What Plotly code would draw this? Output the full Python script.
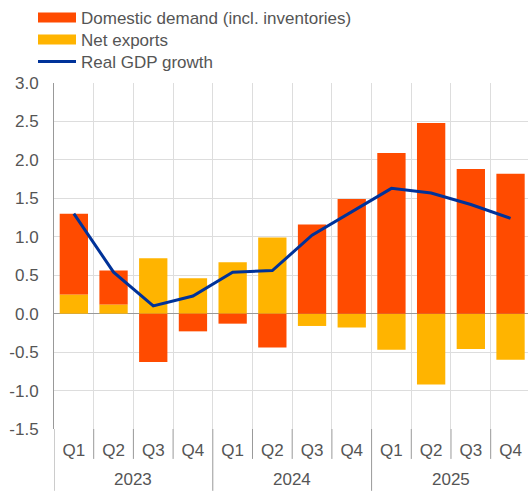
import plotly.graph_objects as go

years = ["2023"] * 4 + ["2024"] * 4 + ["2025"] * 4
quarters = ["Q1", "Q2", "Q3", "Q4"] * 3
domestic = [1.05, 0.44, -0.63, -0.23, -0.13, -0.44, 1.16, 1.49, 2.09, 2.48, 1.88, 1.82]
net_exports = [0.25, 0.12, 0.72, 0.46, 0.67, 0.99, -0.16, -0.18, -0.47, -0.92, -0.46, -0.60]
gdp = [1.30, 0.54, 0.10, 0.23, 0.54, 0.56, 1.02, 1.32, 1.63, 1.57, 1.42, 1.24]
year_labels = ["2023", "2024", "2025"]
y_ticks = [-1.5, -1.0, -0.5, 0.0, 0.5, 1.0, 1.5, 2.0, 2.5, 3.0]
y_ticktext = ["-1.5", "-1.0", "-0.5", "0.0", "0.5", "1.0", "1.5", "2.0", "2.5", "3.0"]

C_DD = "#FF4B00"
C_NX = "#FFB400"
C_GDP = "#003299"
TXT = "#555555"
AXC = "#999999"
GRID = "#dddddd"
FS = 17

cats = [f"{y} {q}" for y, q in zip(years, quarters)]
fig = go.Figure()
fig.add_trace(go.Bar(x=cats, y=net_exports, marker=dict(color=C_NX, line=dict(width=0)),
                     name="Net exports", showlegend=False))
fig.add_trace(go.Bar(x=cats, y=domestic, marker=dict(color=C_DD, line=dict(width=0)),
                     name="Domestic demand (incl. inventories)", showlegend=False))
fig.add_trace(go.Scatter(x=cats, y=gdp, mode="lines", line=dict(color=C_GDP, width=3),
                         name="Real GDP growth", showlegend=False))

# legend entries with wide swatches, one legend per row for exact spacing
fig.add_trace(go.Scatter(x=[None], y=[None], mode="lines", line=dict(color=C_DD, width=10),
                         name="Domestic demand (incl. inventories)", legend="legend"))
fig.add_trace(go.Scatter(x=[None], y=[None], mode="lines", line=dict(color=C_NX, width=10),
                         name="Net exports", legend="legend2"))
fig.add_trace(go.Scatter(x=[None], y=[None], mode="lines", line=dict(color=C_GDP, width=3),
                         name="Real GDP growth", legend="legend3"))

# axis decorations: quarter ticks and year dividers below the plot
n = len(cats)
plot_t, plot_b = 82, 62
plot_h = 491 - plot_t - plot_b
shapes = []
for i in range(n + 1):
    b = i - 0.5
    if b > n - 1:
        continue
    is_year = (i % 4 == 0)
    depth = 62 if is_year else 30
    shapes.append(dict(type="line", xref="x", yref="paper", x0=b, x1=b,
                       y0=0, y1=-depth / plot_h, line=dict(color=AXC, width=1)))

annotations = []
for k, yl in enumerate(year_labels):
    annotations.append(dict(x=4 * k + 1.5, y=-51 / plot_h, xref="x", yref="paper",
                            text=yl, showarrow=False, xanchor="center", yanchor="middle",
                            font=dict(size=FS, color=TXT)))


def leg(center_px):
    return dict(x=-0.0443, y=1 + (plot_t - center_px) / plot_h, xanchor="left",
                yanchor="middle", font=dict(size=FS, color=TXT), itemwidth=38,
                bgcolor="rgba(0,0,0,0)")


fig.update_layout(
    width=528, height=491,
    margin=dict(l=54, r=0, t=plot_t, b=plot_b),
    paper_bgcolor="white", plot_bgcolor="white",
    barmode="relative", bargap=0.287,
    font=dict(family="Liberation Sans, Arial, sans-serif", size=FS, color=TXT),
    legend=leg(17), legend2=leg(40), legend3=leg(62),
    shapes=shapes, annotations=annotations,
)
fig.update_xaxes(
    type="category", range=[-0.5, n - 0.56], tickson="boundaries", ticks="",
    tickvals=cats, ticktext=quarters, tickangle=0, showgrid=True, gridcolor=GRID,
    gridwidth=1, showline=False, tickfont=dict(size=FS, color=TXT), ticklabelstandoff=9,
    automargin=False,
)
fig.update_yaxes(
    range=[-1.5, 3.0], tickvals=y_ticks, ticktext=y_ticktext, showgrid=True,
    gridcolor=GRID, gridwidth=1, zeroline=True, zerolinecolor=AXC,
    zerolinewidth=1, showline=True, linecolor=AXC, linewidth=1,
    ticks="", tickfont=dict(size=FS, color=TXT), ticklabelstandoff=11,
    automargin=False,
)
fig.write_html("out.html", config={"displayModeBar": False},
               post_script="document.body.style.margin='0';")
